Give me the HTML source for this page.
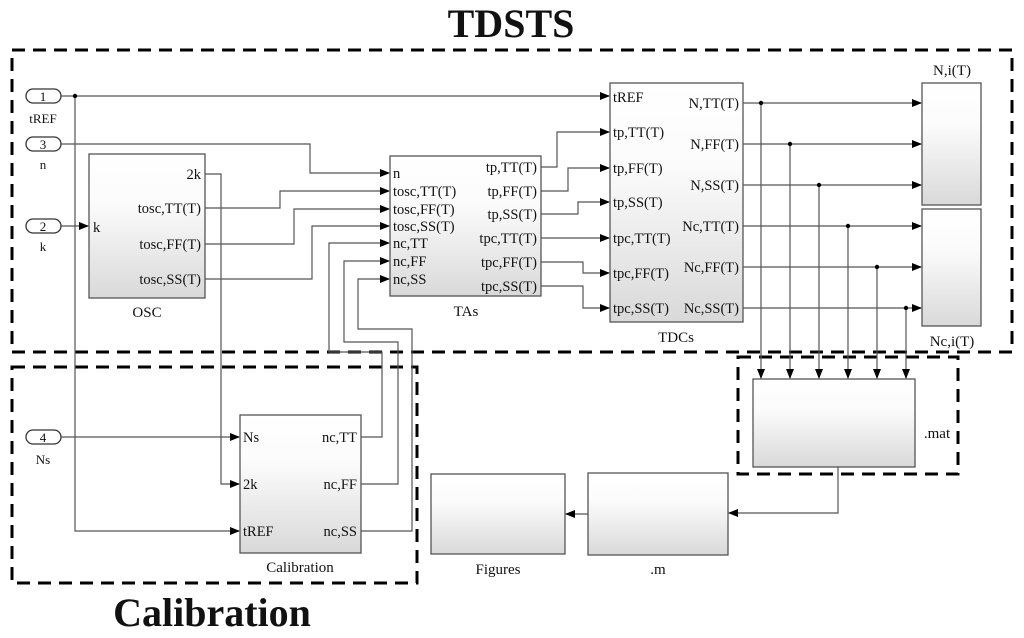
<!DOCTYPE html>
<html><head><meta charset="utf-8"><style>
html,body{margin:0;padding:0;background:#fff;width:1024px;height:638px;overflow:hidden}
svg text{font-family:"Liberation Serif",serif;fill:#111}
</style></head><body>
<svg width="1024" height="638" viewBox="0 0 1024 638" xmlns="http://www.w3.org/2000/svg">
<defs>
<linearGradient id="g" x1="0" y1="0" x2="0" y2="1"><stop offset="0" stop-color="#fff"/><stop offset="0.35" stop-color="#fbfbfb"/><stop offset="1" stop-color="#d9d9d9"/></linearGradient>
<marker id="a" markerWidth="10" markerHeight="8" refX="9" refY="4" orient="auto" markerUnits="userSpaceOnUse"><path d="M0,0 L10,4 L0,8 z" fill="#000"/></marker>
</defs>

<text x="511" y="37" font-size="40" font-weight="bold" text-anchor="middle">TDSTS</text>
<text x="212" y="626" font-size="40" font-weight="bold" text-anchor="middle">Calibration</text>

<g fill="none" stroke="#000" stroke-width="3" stroke-dasharray="13,8">
<rect x="12" y="50" width="1000" height="302"/>
<rect x="12" y="367" width="405" height="216"/>
<rect x="738" y="357" width="220" height="117"/>
</g>

<g fill="url(#g)" stroke="#555" stroke-width="1.3">
<rect x="89" y="154" width="116" height="144"/>
<rect x="390" y="156" width="151" height="140"/>
<rect x="610" y="83" width="133" height="239"/>
<rect x="922" y="83" width="59" height="122"/>
<rect x="922" y="209" width="59" height="117"/>
<rect x="240" y="415" width="121" height="138"/>
<rect x="753" y="379" width="162" height="88"/>
<rect x="588" y="473" width="140" height="82"/>
<rect x="431" y="474" width="134" height="80"/>
</g>

<g fill="#fff" stroke="#333" stroke-width="1.3">
<rect x="26" y="89" width="35" height="14" rx="7"/>
<rect x="26" y="137" width="35" height="14" rx="7"/>
<rect x="26" y="219" width="35" height="14" rx="7"/>
<rect x="26" y="430" width="35" height="14" rx="7"/>
</g>
<g font-size="13" text-anchor="middle">
<text x="43" y="101">1</text><text x="43" y="149">3</text><text x="43" y="231">2</text><text x="43" y="442">4</text>
<text x="43" y="123">tREF</text><text x="43" y="169">n</text><text x="43" y="251">k</text><text x="43" y="464">Ns</text>
</g>

<g fill="none" stroke="#555" stroke-width="1.2" marker-end="url(#a)">
<path d="M61,96 H609"/>
<path d="M75,96 V531 H239"/>
<path d="M61,144 H310 V173 H389"/>
<path d="M61,226 H88"/>
<path d="M205,174 H221 V484 H239"/>
<path d="M205,208 H280 V191 H389"/>
<path d="M205,244 H294 V209 H389"/>
<path d="M205,279 H312 V226 H389"/>
<path d="M361,437 H382 V352 H329 V243 H389"/>
<path d="M361,484 H398 V342 H344 V261 H389"/>
<path d="M361,531 H412 V329 H358 V279 H389"/>
<path d="M61,437 H239"/>
<path d="M541,167 H557 V132 H609"/>
<path d="M541,191 H568 V168 H609"/>
<path d="M541,214 H578 V202 H609"/>
<path d="M541,238 H609"/>
<path d="M541,262 H583 V273 H609"/>
<path d="M541,286 H583 V308 H609"/>
<path d="M743,103 H921"/>
<path d="M743,144 H921"/>
<path d="M743,185 H921"/>
<path d="M743,226 H921"/>
<path d="M743,267 H921"/>
<path d="M743,308 H921"/>
<path d="M761,103 V378"/>
<path d="M790,144 V378"/>
<path d="M819,185 V378"/>
<path d="M848,226 V378"/>
<path d="M877,267 V378"/>
<path d="M906,308 V378"/>
<path d="M838,467 V513 H729"/>
<path d="M588,514 H566"/>
</g>
<g fill="#000">
<circle cx="75" cy="96" r="2.2"/>
<circle cx="761" cy="103" r="2.2"/><circle cx="790" cy="144" r="2.2"/><circle cx="819" cy="185" r="2.2"/>
<circle cx="848" cy="226" r="2.2"/><circle cx="877" cy="267" r="2.2"/><circle cx="906" cy="308" r="2.2"/>
</g>

<g font-size="14.5">
<text x="93" y="232">k</text>
<text x="201" y="179" text-anchor="end">2k</text>
<text x="201" y="213" text-anchor="end">tosc,TT(T)</text>
<text x="201" y="249" text-anchor="end">tosc,FF(T)</text>
<text x="201" y="284" text-anchor="end">tosc,SS(T)</text>

<text x="393" y="178">n</text>
<text x="393" y="196">tosc,TT(T)</text>
<text x="393" y="214">tosc,FF(T)</text>
<text x="393" y="231">tosc,SS(T)</text>
<text x="393" y="248">nc,TT</text>
<text x="393" y="266">nc,FF</text>
<text x="393" y="284">nc,SS</text>
<g text-anchor="end">
<text x="537" y="172">tp,TT(T)</text>
<text x="537" y="196">tp,FF(T)</text>
<text x="537" y="219">tp,SS(T)</text>
<text x="537" y="243">tpc,TT(T)</text>
<text x="537" y="267">tpc,FF(T)</text>
<text x="537" y="291">tpc,SS(T)</text>
</g>

<text x="613" y="102">tREF</text>
<text x="613" y="137">tp,TT(T)</text>
<text x="613" y="173">tp,FF(T)</text>
<text x="613" y="207">tp,SS(T)</text>
<text x="613" y="243">tpc,TT(T)</text>
<text x="613" y="278">tpc,FF(T)</text>
<text x="613" y="313">tpc,SS(T)</text>
<g text-anchor="end">
<text x="739" y="108">N,TT(T)</text>
<text x="739" y="149">N,FF(T)</text>
<text x="739" y="190">N,SS(T)</text>
<text x="739" y="231">Nc,TT(T)</text>
<text x="739" y="272">Nc,FF(T)</text>
<text x="739" y="313">Nc,SS(T)</text>
</g>

<text x="243" y="442">Ns</text>
<text x="243" y="489">2k</text>
<text x="243" y="536">tREF</text>
<g text-anchor="end">
<text x="357" y="442">nc,TT</text>
<text x="357" y="489">nc,FF</text>
<text x="357" y="536">nc,SS</text>
</g>
</g>

<g font-size="15" text-anchor="middle">
<text x="147" y="317">OSC</text>
<text x="466" y="316">TAs</text>
<text x="676" y="342">TDCs</text>
<text x="952" y="75">N,i(T)</text>
<text x="952" y="346">Nc,i(T)</text>
<text x="300" y="572">Calibration</text>
<text x="937" y="438">.mat</text>
<text x="658" y="574">.m</text>
<text x="498" y="574">Figures</text>
</g>
</svg>
</body></html>
